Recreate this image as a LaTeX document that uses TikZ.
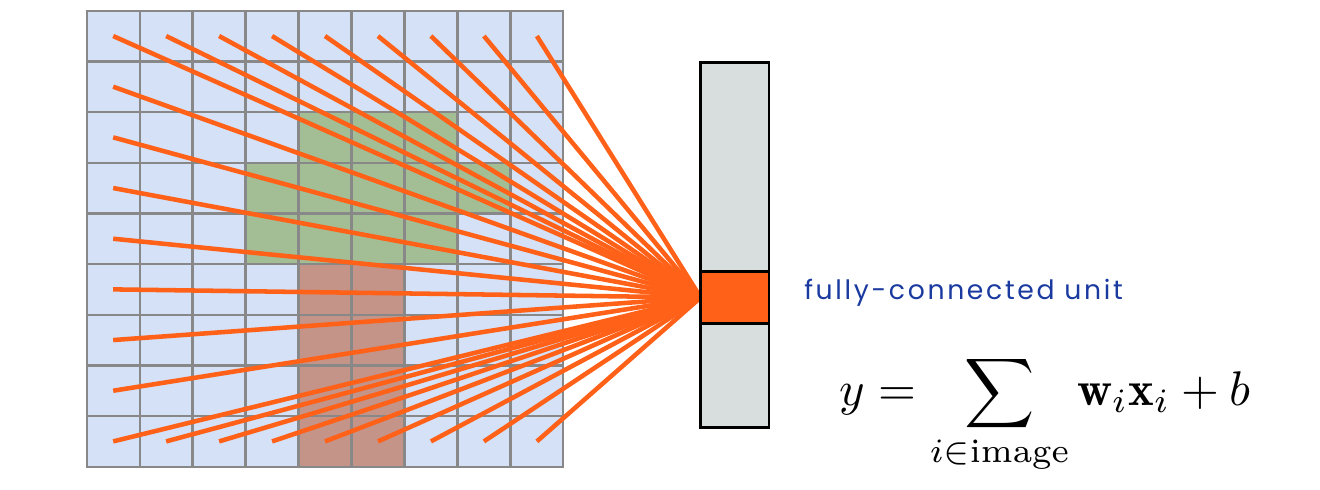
\documentclass[tikz,border=0pt]{standalone}
\usepackage{fontspec}
\newfontfamily\labelfont[LetterSpace=10]{Poppins}
\usetikzlibrary{positioning}
\usetikzlibrary{backgrounds}

\definecolor{cellblue}{RGB}{212,225,246}
\definecolor{cellgreen}{RGB}{163,190,149}
\definecolor{cellred}{RGB}{196,148,137}
\definecolor{gridgray}{RGB}{136,136,136}
\definecolor{vecgray}{RGB}{216,221,221}
\definecolor{fcorange}{RGB}{255,97,25}
\definecolor{labelblue}{RGB}{26,58,160}

\begin{document}
\begin{tikzpicture}[x=0.75pt, y=-0.75pt,
    cell/.style={rectangle, draw=gridgray, line width=1.7pt, minimum width=39.72pt, minimum height=38pt, inner sep=0pt, outer sep=0pt, anchor=center},
    vec/.style={rectangle, draw=black, line width=2pt, fill=vecgray, minimum width=51.2pt, inner sep=0pt, outer sep=0pt},
    link/.style={draw=fcorange, line width=3.4pt}]

    \useasboundingbox (0,0) rectangle (1320,489);

    % input image
    \begin{pgfonlayer}{background}
    \foreach \r in {0,...,8}
      \foreach \c in {0,...,8} {
        \pgfmathtruncatemacro\isgreen{(\r==2 && \c>=4 && \c<=6) || (\r==3 && \c>=3 && \c<=7) || (\r==4 && \c>=3 && \c<=6)}
        \pgfmathtruncatemacro\isred{\r>=5 && \c>=4 && \c<=5}
        \def\cellfill{cellblue}
        \ifnum\isgreen=1 \def\cellfill{cellgreen}\fi
        \ifnum\isred=1 \def\cellfill{cellred}\fi
        \node[cell, fill=\cellfill] (cell-\r-\c) at ({86.7+52.96*(\c+0.5)}, {10.7+50.67*(\r+0.5)}) {};
      }
    \end{pgfonlayer}

    % output vector
    \node[vec, fill=fcorange, minimum height=38.7pt] (unit) at (734.8,297.5) {};
    \node[vec, minimum height=156.75pt, above=0pt of unit] (vtop) {};
    \node[vec, minimum height=78.3pt, below=0pt of unit] (vbot) {};

    % connections
    \begin{pgfonlayer}{background}
    \foreach \c in {0,...,8} {
      \draw[link] (cell-0-\c.center) -- (unit.west);
      \draw[link] (cell-8-\c.center) -- (unit.west);
    }
    \foreach \r in {1,...,7}
      \draw[link] (cell-\r-0.center) -- (unit.west);
    \end{pgfonlayer}

    \node[anchor=base west, inner sep=0pt, text=labelblue, font=\labelfont\fontsize{20}{24}\selectfont] (label) at (804,299.3) {fully-connected unit};
    \node[anchor=base, inner sep=0pt] (eq) at (1045,405.5) {\scalebox{3.65}{$\displaystyle y = \sum_{i\in\mathrm{image}} \mathbf{w}_i\mathbf{x}_i + b$}};

\end{tikzpicture}
\end{document}
